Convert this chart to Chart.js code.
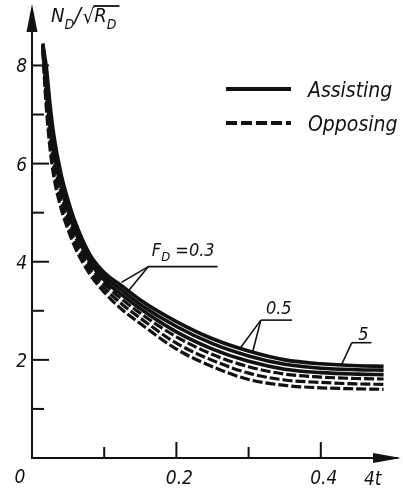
<!DOCTYPE html>
<html>
<head>
<meta charset="utf-8">
<script src="https://cdn.jsdelivr.net/npm/chart.js"></script>
<style>
  body { margin: 0; background: #fff; }
  #wrap { width: 403px; height: 493px; }
</style>
</head>
<body>
<div id="wrap"><canvas id="chartCanvas" width="403" height="493"></canvas></div>
<script>
// values: 4t on x, N_D/sqrt(R_D) on y
const tValues   = [0.015, 0.0175, 0.02, 0.025, 0.03, 0.04, 0.05, 0.06, 0.08, 0.1, 0.125, 0.15, 0.2, 0.25, 0.3, 0.35, 0.4, 0.45, 0.487];
const assistFd03 = [8.45, 8.2, 7.95, 7.2, 6.6, 5.8, 5.25, 4.8, 4.15, 3.78, 3.5, 3.22, 2.78, 2.43, 2.18, 2.0, 1.92, 1.88, 1.87];
const assistFd05 = [8.42, 8.1, 7.8, 7.04, 6.45, 5.67, 5.14, 4.71, 4.08, 3.71, 3.41, 3.13, 2.68, 2.33, 2.08, 1.91, 1.83, 1.8, 1.79];
const assistFd5  = [8.39, 8.0, 7.64, 6.87, 6.29, 5.54, 5.03, 4.61, 4.0, 3.63, 3.32, 3.04, 2.57, 2.22, 1.97, 1.81, 1.74, 1.71, 1.7];
const opposeFd03 = [8.37, 7.89, 7.47, 6.7, 6.12, 5.41, 4.91, 4.51, 3.93, 3.56, 3.23, 2.95, 2.47, 2.11, 1.86, 1.71, 1.65, 1.62, 1.61];
const opposeFd05 = [8.33, 7.77, 7.29, 6.5, 5.94, 5.25, 4.78, 4.39, 3.84, 3.47, 3.13, 2.85, 2.34, 1.99, 1.73, 1.59, 1.54, 1.51, 1.5];
const opposeFd5  = [8.3, 7.65, 7.1, 6.3, 5.75, 5.1, 4.65, 4.28, 3.75, 3.38, 3.02, 2.74, 2.22, 1.86, 1.6, 1.48, 1.43, 1.41, 1.4];

const xTickLabels = [0.2, 0.4];
const yTickLabels = [2, 4, 6, 8];
const legendLabels = ['Assisting', 'Opposing'];
const fdLabels = ['0.3', '0.5', '5'];

const ink = '#111';
const fam = "'DejaVu Sans Condensed', 'Liberation Sans Narrow', 'DejaVu Sans', sans-serif";

function pts(vals) {
    return tValues.map((t, i) => ({ x: t, y: vals[i] }));
}

function curve(label, vals, dashed) {
    return {
        label: label,
        data: pts(vals),
        borderColor: ink,
        borderWidth: dashed ? 3.2 : 3.6,
        borderDash: dashed ? [10, 3] : [],
        pointRadius: 0,
        cubicInterpolationMode: 'monotone',
        fill: false
    };
}

// draw a run of text pieces, [text, size, drop]
function drawParts(ctx, x, base, parts) {
    parts.forEach(p => {
        ctx.font = 'italic ' + p[1] + 'px ' + fam;
        ctx.fillText(p[0], x, base + p[2]);
        x += ctx.measureText(p[0]).width;
    });
    return x;
}

function seg(ctx, x1, y1, x2, y2) {
    ctx.beginPath();
    ctx.moveTo(x1, y1);
    ctx.lineTo(x2, y2);
    ctx.stroke();
}

const decor = {
    id: 'decor',
    afterDraw(chart) {
        const ctx = chart.ctx;
        const a = chart.chartArea;
        const x = chart.scales.x;
        const y = chart.scales.y;
        ctx.save();
        ctx.strokeStyle = ink;
        ctx.fillStyle = ink;
        ctx.textAlign = 'left';
        ctx.textBaseline = 'alphabetic';

        // tick marks point into the plot
        ctx.lineWidth = 2;
        y.ticks.forEach(tk => {
            if (tk.value <= 0 || tk.value >= 9) return;
            const py = y.getPixelForValue(tk.value);
            const len = yTickLabels.includes(tk.value) ? 17 : 12;
            seg(ctx, a.left, py, a.left + len, py);
        });
        x.ticks.forEach(tk => {
            const v = Math.round(tk.value * 10) / 10;
            if (v <= 0 || v >= 0.5) return;
            const px = x.getPixelForValue(v);
            const len = xTickLabels.includes(v) ? 16 : 11;
            seg(ctx, px, a.bottom, px, a.bottom - len);
        });

        // arrow heads on both axes
        seg(ctx, a.left, a.top, a.left, 8);
        seg(ctx, a.right, a.bottom, 398, a.bottom);
        ctx.beginPath();
        ctx.moveTo(a.left, 4);
        ctx.lineTo(a.left - 5.5, 32);
        ctx.lineTo(a.left + 5.5, 32);
        ctx.closePath();
        ctx.fill();
        ctx.beginPath();
        ctx.moveTo(401, a.bottom);
        ctx.lineTo(373, a.bottom - 5);
        ctx.lineTo(373, a.bottom + 5);
        ctx.closePath();
        ctx.fill();

        // origin and axis names
        ctx.font = 'italic 19px ' + fam;
        ctx.textAlign = 'center';
        ctx.fillText('0', a.left - 12, a.bottom + 25);
        ctx.textAlign = 'left';
        ctx.fillText('4t', 364, a.bottom + 27);

        const tx = drawParts(ctx, a.left + 19, 22, [['N', 20, 0], ['D', 14, 7], ['/', 22, 1]]);
        const rootEnd = drawParts(ctx, tx + 2, 23, [['\u221A', 20, 0]]);
        const endX = drawParts(ctx, rootEnd, 22, [['R', 20, 0], ['D', 14, 7]]);
        ctx.lineWidth = 1.8;
        seg(ctx, rootEnd - 1, 6, endX + 3, 6);

        // legend
        const lx0 = a.right - 167, lx1 = a.right - 102;
        ctx.lineWidth = 4;
        seg(ctx, lx0, 89, lx1, 89);
        ctx.setLineDash([11, 4]);
        seg(ctx, lx0, 123, lx1, 123);
        ctx.setLineDash([]);
        ctx.font = 'italic 21px ' + fam;
        ctx.fillText(legendLabels[0], lx1 + 17, 97);
        ctx.fillText(legendLabels[1], lx1 + 17, 131);

        // F_D call-outs with leader lines
        ctx.lineWidth = 1.6;
        const P = (t, v) => [x.getPixelForValue(t), y.getPixelForValue(v)];
        let u0 = P(0.161, 3.9), u1 = P(0.257, 3.9);
        seg(ctx, u0[0], u0[1], u1[0], u1[1]);
        [[0.124, 3.58], [0.132, 3.38]].forEach(e => { const q = P(e[0], e[1]); seg(ctx, u0[0], u0[1], q[0], q[1]); });
        let s = P(0.166, 4.12);
        drawParts(ctx, s[0], s[1], [['F', 18, 0], ['D', 13, 5], [' =' + fdLabels[0], 18, 0]]);

        u0 = P(0.317, 2.81); u1 = P(0.36, 2.81);
        seg(ctx, u0[0], u0[1], u1[0], u1[1]);
        [[0.287, 2.21], [0.305, 2.13]].forEach(e => { const q = P(e[0], e[1]); seg(ctx, u0[0], u0[1], q[0], q[1]); });
        s = P(0.324, 2.93);
        drawParts(ctx, s[0], s[1], [[fdLabels[1], 18, 0]]);

        u0 = P(0.443, 2.35); u1 = P(0.47, 2.35);
        seg(ctx, u0[0], u0[1], u1[0], u1[1]);
        const q5 = P(0.429, 1.91);
        seg(ctx, u0[0], u0[1], q5[0], q5[1]);
        s = P(0.452, 2.41);
        drawParts(ctx, s[0], s[1], [[fdLabels[2], 18, 0]]);

        ctx.restore();
    }
};

const tickFont = { family: fam, size: 19, style: 'italic' };

new Chart(document.querySelector('#chartCanvas'), {
    type: 'line',
    data: {
        datasets: [
            curve('Opposing F_D=0.3', opposeFd03, true),
            curve('Opposing F_D=0.5', opposeFd05, true),
            curve('Opposing F_D=5', opposeFd5, true),
            curve('Assisting F_D=0.3', assistFd03, false),
            curve('Assisting F_D=0.5', assistFd05, false),
            curve('Assisting F_D=5', assistFd5, false)
        ]
    },
    options: {
        responsive: false,
        animation: false,
        devicePixelRatio: 1,
        layout: { padding: { left: 0, top: 10, right: 8.5, bottom: 0 } },
        plugins: {
            legend: { display: false },
            tooltip: { enabled: false }
        },
        scales: {
            x: {
                type: 'linear',
                min: 0,
                max: 0.5,
                afterFit: (scale) => { scale.height = 35; },
                grid: { display: false, drawTicks: false },
                border: { display: true, color: ink, width: 2 },
                ticks: {
                    stepSize: 0.1,
                    color: ink,
                    font: tickFont,
                    padding: 10,
                    labelOffset: 3,
                    maxRotation: 0,
                    autoSkip: false,
                    callback: (v) => {
                        const r = Math.round(v * 10) / 10;
                        return xTickLabels.includes(r) ? r.toFixed(1) : '';
                    }
                }
            },
            y: {
                min: 0,
                max: 9,
                afterFit: (scale) => { scale.width = 32; },
                grid: { display: false, drawTicks: false },
                border: { display: true, color: ink, width: 2 },
                ticks: {
                    stepSize: 1,
                    color: ink,
                    font: tickFont,
                    padding: 5,
                    labelOffset: 2,
                    autoSkip: false,
                    callback: (v) => yTickLabels.includes(v) ? String(v) : ''
                }
            }
        }
    },
    plugins: [decor]
});
</script>
</body>
</html>
